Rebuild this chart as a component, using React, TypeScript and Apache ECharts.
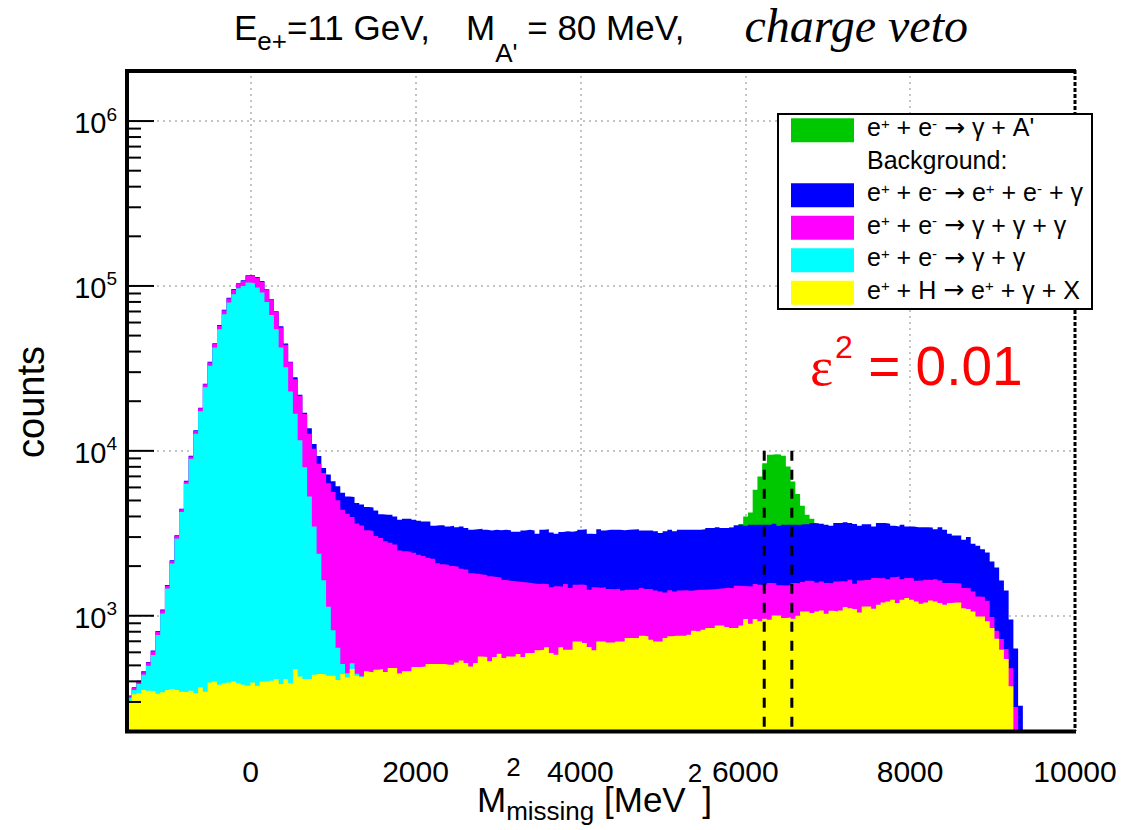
import React, { useEffect, useRef } from "react";
import * as echarts from "echarts";

const SANS = '"Liberation Sans", Arial, Helvetica, sans-serif';
const SERIF = '"Liberation Serif", "Times New Roman", serif';
const ARROW_FONT = '"DejaVu Sans", "Liberation Sans", sans-serif';

// Binning of the missing-mass-squared histograms (MeV^2)
const X_MIN = -1500;
const X_MAX = 10000;
const BIN_WIDTH = 57.5;
const Y_MIN = 200;
const Y_MAX = 2.04e6;

// Plot frame in pixels
const FRAME = { left: 127, top: 70, width: 948, height: 661 };

const COLOR_APRIME = "#00c800";
const COLOR_EEG = "#0000ff";
const COLOR_GGG = "#ff00ff";
const COLOR_GG = "#00ffff";
const COLOR_EH = "#ffff00";

// Stacked histogram levels per bin (first bin starts at X_MIN).
// Each array is the top of the stack once that process is added:
// yellow = e+H, cyan = + (e+e- -> gg), magenta = + (e+e- -> ggg),
// blue = + (e+e- -> e+e-g), green = + signal A'.
const yellowTop = [
  302, 334, 339, 355, 351, 349, 336, 343, 355, 360, 355, 346, 343, 351, 339, 369, 346, 394, 399, 381,
  390, 394, 399, 390, 381, 376, 394, 376, 399, 399, 403, 414, 386, 414, 390, 476, 428, 414, 414, 438,
  444, 442, 432, 432, 408, 444, 422, 476, 432, 424, 458,
  454, 471, 475, 456, 482, 482, 446, 460, 460, 489, 489, 493, 509, 509, 509, 509, 505, 505, 521, 536,
  517, 493, 517, 567, 562, 529, 562, 589, 554, 567, 567, 587, 562, 594, 594, 617, 622, 643, 594, 580,
  643, 622, 622, 699, 699, 683, 646, 617, 699, 699,
  689, 689, 699, 699, 732, 732, 732, 757, 750, 716, 699, 699, 732, 750, 757, 757, 757, 768, 812, 804,
  823, 842, 842, 874, 874, 854, 842, 842, 874, 954, 895, 954, 925, 959, 946, 1005, 1005, 968, 977, 959,
  1000, 1062, 1062, 1038, 1062, 1077, 1028, 1071, 1062, 1075,
  1128, 1111, 1098, 1048, 1139, 1139, 1103, 1166, 1205, 1222, 1251, 1194, 1251, 1280, 1251, 1222, 1183,
  1205, 1239, 1222, 1194, 1166, 1194, 1205, 1205, 1111, 1098, 1062, 991, 991, 925, 842, 726, 622, 546, 373,
];

const cyanTop = [
  318, 355, 386, 438, 497, 578, 764, 1033, 1463, 2073, 2938, 4259, 6310, 8950, 12700, 17400, 24300,
  32800, 42400, 54700, 67400, 79300, 89200, 96900, 100000, 104800, 103800, 97700, 91200, 80000, 66600,
  54700, 42400, 32100, 22900, 16800, 11600, 7960, 5290, 3480, 2380, 1640, 1134, 818, 640, 510, 448, 516,
  445, 430, 462,
];

const magentaTop = [
  325, 365, 400, 455, 520, 610, 800, 1080, 1520, 2150, 3050, 4420, 6520, 9250, 13200, 18100, 25300,
  34300, 44500, 57400, 71000, 84000, 95000, 103000,
  107200, 114900, 114900, 112300, 106200, 94600, 82200, 69600, 56000, 44000, 34400, 27200, 21600, 16700,
  12700, 10300, 8340, 7330, 6370, 5620, 5010, 4400, 4160, 3970, 3620, 3530, 3300,
  3270, 3050, 2960, 2830, 2770, 2700, 2490, 2460, 2440, 2410, 2340, 2300, 2250, 2220, 2080, 2050, 2030,
  2000, 1985, 1930, 1910, 1810, 1795, 1780, 1765, 1735, 1720, 1705, 1645, 1630, 1620, 1608, 1598, 1585,
  1570, 1560, 1565, 1555, 1490, 1510, 1505, 1556, 1475, 1540, 1548, 1535, 1440, 1490, 1480, 1488,
  1452, 1448, 1460, 1425, 1440, 1436, 1445, 1472, 1455, 1450, 1425, 1404, 1385, 1428, 1404, 1422, 1430,
  1418, 1426, 1440, 1436, 1442, 1450, 1456, 1470, 1476, 1468, 1520, 1515, 1507, 1503, 1556, 1540, 1545,
  1578, 1572, 1530, 1525, 1532, 1580, 1575, 1600, 1630, 1625, 1593, 1615, 1580, 1575, 1612, 1618,
  1615, 1652, 1563, 1637, 1650, 1655, 1692, 1688, 1695, 1666, 1714, 1731, 1666, 1692, 1688, 1630, 1634,
  1652, 1648, 1666, 1637, 1578, 1582, 1575, 1570, 1472, 1468, 1404, 1309, 1300, 1233, 982, 812, 722, 628,
  481, 280,
];

const blueTop = [
  328, 368, 404, 460, 525, 616, 808, 1090, 1535, 2170, 3080, 4460, 6580, 9340, 13330, 18280, 25550,
  34640, 44940, 57970, 71700, 84800, 95900, 104000, 108300, 116000, 116000, 113400, 107300, 95500, 83000,
  70300,
  57000, 44800, 34700, 27900, 21900, 17000, 13700, 11000, 9290, 7860, 7190, 6530, 6090, 5570, 5290, 5250,
  4830, 4730, 4560,
  4540, 4350, 4130, 4090, 4090, 4000, 3820, 3870, 3870, 3820, 3770, 3730, 3730, 3510, 3540, 3540, 3480,
  3510, 3440, 3480, 3400, 3320, 3350, 3370, 3320, 3290, 3320, 3300, 3320, 3300, 3230, 3230, 3290, 3320,
  3290, 3140, 3320, 3350, 3200, 3140, 3220, 3250, 3230, 3260, 3320, 3350, 3140, 3130, 3350, 3290,
  3320, 3320, 3320, 3300, 3320, 3330, 3350, 3290, 3290, 3290, 3250, 3170, 3250, 3320, 3250, 3320, 3320,
  3320, 3320, 3320, 3350, 3400, 3400, 3440, 3400, 3400, 3400, 3510, 3560, 3510, 3560, 3560, 3560, 3560,
  3560, 3610, 3510, 3560, 3560, 3560, 3560, 3590, 3590, 3645, 3610, 3610, 3560, 3510, 3645, 3645,
  3690, 3645, 3600, 3510, 3593, 3593, 3478, 3645, 3645, 3610, 3510, 3478, 3557, 3478, 3478, 3444, 3444,
  3444, 3428, 3350, 3444, 3320, 3140, 3070, 3070, 2890, 2998, 2731, 2656, 2535, 2421, 2134, 1964, 1637,
  1425, 950, 634, 285,
];

const APRIME_FIRST_BIN = 127;
const aprimeTop = [
  3450, 3550, 3600, 4000, 4230, 5800, 6990, 8410, 9460, 9550, 9500, 9330, 8040, 6520, 5480, 4650, 4090,
  3870, 3650,
];

// Signal mass window (MeV^2) and the height of its markers
const signalWindow = [6230, 6565];
const SIGNAL_MARK_TOP = 1e4;

const ARROW = "{a|\u2192}";
const legendRows = [
  { color: COLOR_APRIME, text: `{t|e}{p|+}{t| + e}{p|-}{t| }${ARROW}{t| \u03b3 + A'}` },
  { color: null, text: "{t|Background:}" },
  { color: COLOR_EEG, text: `{t|e}{p|+}{t| + e}{p|-}{t| }${ARROW}{t| e}{p|+}{t| + e}{p|-}{t| + \u03b3}` },
  { color: COLOR_GGG, text: `{t|e}{p|+}{t| + e}{p|-}{t| }${ARROW}{t| \u03b3 + \u03b3 + \u03b3}` },
  { color: COLOR_GG, text: `{t|e}{p|+}{t| + e}{p|-}{t| }${ARROW}{t| \u03b3 + \u03b3}` },
  { color: COLOR_EH, text: `{t|e}{p|+}{t| + H }${ARROW}{t| e}{p|+}{t| + \u03b3 + X}` },
];

function stepPoints(tops: number[], firstBin = 0) {
  const pts = tops.map((v, i) => [X_MIN + (firstBin + i) * BIN_WIDTH, v]);
  pts.push([X_MIN + (firstBin + tops.length) * BIN_WIDTH, tops[tops.length - 1]]);
  return pts;
}

function histogram(name: string, color: string, tops: number[], firstBin = 0) {
  return {
    name,
    type: "line",
    step: "end",
    data: stepPoints(tops, firstBin),
    symbol: "none",
    showSymbol: false,
    silent: true,
    clip: true,
    lineStyle: { width: 0, opacity: 0 },
    areaStyle: { color, opacity: 1, origin: "start" },
    itemStyle: { color },
  };
}

function staticGraphics(): any[] {
  const legendX = 778;
  const legendY = 114;
  const rowPitch = 32.47;
  const firstRow = 130.3;

  const legendEls: any[] = [
    {
      type: "rect",
      shape: { x: legendX, y: legendY, width: 314, height: 195 },
      style: { fill: "#fff", stroke: "#000", lineWidth: 2 },
      z: 30,
    },
  ];
  legendRows.forEach((row, i) => {
    const cy = firstRow + i * rowPitch;
    if (row.color) {
      legendEls.push({
        type: "rect",
        shape: { x: 791, y: cy - 12, width: 63, height: 24 },
        style: { fill: row.color },
        z: 31,
      });
    }
    legendEls.push({
      type: "text",
      x: 867,
      y: cy - 19.5,
      z: 31,
      style: {
        text: row.text,
        align: "left",
        verticalAlign: "top",
        textAlign: "left",
        textVerticalAlign: "top",
        fill: "#000",
        rich: {
          t: { fontSize: 25, fontFamily: SANS, fill: "#000", verticalAlign: "top", padding: [4, 0, 0, 0] },
          a: { fontSize: 25, fontFamily: ARROW_FONT, fill: "#000", verticalAlign: "top", padding: [4, 0, 0, 0] },
          p: { fontSize: 15, fontFamily: SANS, fill: "#000", verticalAlign: "top", padding: [5, 0, 0, 0] },
        },
      },
    });
  });

  const fl = FRAME.left;
  const ft = FRAME.top;
  const fr = FRAME.left + FRAME.width;
  const fb = FRAME.top + FRAME.height;

  const frameEls: any[] = [
    { type: "line", shape: { x1: fl - 2, y1: ft + 1, x2: fr + 1, y2: ft + 1 }, style: { stroke: "#000", lineWidth: 4 }, z: 20 },
    { type: "line", shape: { x1: fl, y1: ft - 1, x2: fl, y2: fb + 2 }, style: { stroke: "#000", lineWidth: 4 }, z: 20 },
    { type: "line", shape: { x1: fl - 2, y1: fb + 0.5, x2: fr + 1, y2: fb + 0.5 }, style: { stroke: "#000", lineWidth: 4 }, z: 20 },
    { type: "line", shape: { x1: fr, y1: ft, x2: fr, y2: fb }, style: { stroke: "#000", lineWidth: 3, lineDash: [4, 2] }, z: 20 },
  ];

  const textEls: any[] = [
    {
      type: "text",
      x: 601,
      y: 1,
      z: 20,
      style: {
        text: "{m|E}{s1|e+}{m|=11 GeV,}{m2|M}{s2|A'}{m| = 80 MeV,}{it|charge veto}",
        align: "center",
        verticalAlign: "top",
        textAlign: "center",
        textVerticalAlign: "top",
        rich: {
          m: { fontSize: 35, fontFamily: SANS, fill: "#000", verticalAlign: "top", padding: [9, 0, 0, 0] },
          m2: { fontSize: 35, fontFamily: SANS, fill: "#000", verticalAlign: "top", padding: [9, 0, 0, 36] },
          s1: { fontSize: 26, fontFamily: SANS, fill: "#000", verticalAlign: "top", padding: [27, 0, 0, 0] },
          s2: { fontSize: 26, fontFamily: SANS, fill: "#000", verticalAlign: "top", padding: [39, 0, 0, 0] },
          it: { fontSize: 48, fontFamily: SERIF, fontStyle: "italic", fill: "#000", verticalAlign: "top", padding: [0, 0, 0, 60] },
        },
      },
    },
    {
      type: "text",
      x: 31,
      y: 402,
      rotation: Math.PI / 2,
      z: 20,
      style: {
        text: "counts",
        fontSize: 38,
        fontFamily: SANS,
        fill: "#000",
        align: "center",
        verticalAlign: "middle",
        textAlign: "center",
        textVerticalAlign: "middle",
      },
    },
    {
      type: "text",
      x: 477,
      y: 752,
      z: 20,
      style: {
        text: "{m|M}{sp|2}{sb|missing}{m| [MeV}{sp2|2}{m|]}",
        align: "left",
        verticalAlign: "top",
        textAlign: "left",
        textVerticalAlign: "top",
        rich: {
          m: { fontSize: 35, fontFamily: SANS, fill: "#000", verticalAlign: "top", padding: [30, 0, 0, 0] },
          sp: { fontSize: 26, fontFamily: SANS, fill: "#000", verticalAlign: "top", padding: [2, 0, 0, 0], width: 0 },
          sb: { fontSize: 26, fontFamily: SANS, fill: "#000", verticalAlign: "top", padding: [46, 0, 0, 0] },
          sp2: { fontSize: 26, fontFamily: SANS, fill: "#000", verticalAlign: "top", padding: [8, 0, 0, 2] },
        },
      },
    },
    {
      type: "text",
      x: 810,
      y: 330,
      z: 20,
      style: {
        text: "{e|\u03b5}{s|2}{t| = 0.01}",
        align: "left",
        verticalAlign: "top",
        textAlign: "left",
        textVerticalAlign: "top",
        rich: {
          e: { fontSize: 55, fontFamily: SERIF, fill: "#ff0000", verticalAlign: "top", padding: [9, 0, 0, 0] },
          s: { fontSize: 32, fontFamily: SANS, fill: "#ff0000", verticalAlign: "top", padding: [1, 0, 0, 2] },
          t: { fontSize: 55, fontFamily: SANS, fill: "#ff0000", verticalAlign: "top", padding: [8, 0, 0, 0] },
        },
      },
    },
  ];

  return [...frameEls, ...textEls, { type: "group", children: legendEls, z: 30 }];
}

function buildOption() {
  const gridLine = { color: "#c4c4c4", width: 2, type: [2, 4] };

  return {
    animation: false,
    backgroundColor: "#fff",
    grid: {
      left: FRAME.left,
      top: FRAME.top,
      width: FRAME.width,
      height: FRAME.height,
      show: false,
      containLabel: false,
      outerBoundsMode: "none",
    },
    xAxis: {
      type: "value",
      min: X_MIN,
      max: X_MAX,
      axisLine: { show: false, onZero: false },
      axisTick: { show: false },
      axisLabel: {
        formatter: (v: number) => (Math.abs(v % 2000) < 1e-6 ? String(v) : ""),
        fontSize: 30,
        fontFamily: SANS,
        color: "#000",
        margin: 25,
      },
      splitLine: { show: true, lineStyle: gridLine },
    },
    yAxis: {
      type: "log",
      logBase: 10,
      min: Y_MIN,
      max: Y_MAX,
      axisLine: { show: false, onZero: false },
      axisTick: { show: false },
      axisLabel: {
        margin: 10,
        color: "#000",
        formatter: (v: number) => {
          const e = Math.log10(v);
          if (Math.abs(e - Math.round(e)) > 1e-6) return "";
          return `{b|10}{e|${Math.round(e)}}`;
        },
        rich: {
          b: { fontSize: 29, fontFamily: SANS, color: "#000", verticalAlign: "top", padding: [4, 0, 0, 0] },
          e: { fontSize: 19, fontFamily: SANS, color: "#000", verticalAlign: "top" },
        },
      },
      splitLine: { show: true, lineStyle: gridLine },
    },
    series: [
      histogram("e+ e- -> gamma A'", COLOR_APRIME, aprimeTop, APRIME_FIRST_BIN),
      histogram("e+ e- -> e+ e- gamma", COLOR_EEG, blueTop),
      histogram("e+ e- -> gamma gamma gamma", COLOR_GGG, magentaTop),
      histogram("e+ e- -> gamma gamma", COLOR_GG, cyanTop),
      histogram("e+ H -> e+ gamma X", COLOR_EH, yellowTop),
      {
        type: "custom",
        name: "signal window",
        silent: true,
        z: 5,
        data: signalWindow.map((x) => [x, SIGNAL_MARK_TOP]),
        renderItem: (_params: any, api: any) => {
          const top = api.coord([api.value(0), api.value(1)]);
          const bottom = api.coord([api.value(0), Y_MIN]);
          return {
            type: "line",
            shape: { x1: top[0], y1: top[1], x2: bottom[0], y2: bottom[1] },
            style: { stroke: "#000", lineWidth: 3, lineDash: [10, 9] },
          };
        },
      },
    ],
    graphic: { elements: staticGraphics() },
  };
}

// Log-axis ticks: long ones at each decade, short ones at 2..9 x decade
function logTickGraphics(chart: any): any[] {
  const els: any[] = [];
  for (let d = 2; d <= 6; d++) {
    for (let m = 1; m <= 9; m++) {
      const v = m * Math.pow(10, d);
      if (v <= Y_MIN || v >= Y_MAX) continue;
      const p = chart.convertToPixel({ gridIndex: 0 }, [X_MIN, v]);
      if (!p) continue;
      const len = m === 1 ? 27 : 14;
      els.push({
        type: "line",
        shape: { x1: p[0], y1: p[1], x2: p[0] + len, y2: p[1] },
        style: { stroke: "#000", lineWidth: 2 },
        z: 19,
      });
    }
  }
  return els;
}

export default function App() {
  const ref = useRef<HTMLDivElement>(null);
  useEffect(() => {
    const chart = echarts.init(ref.current as HTMLDivElement, null, { renderer: "svg" });
    chart.setOption(buildOption() as any);
    chart.setOption({ graphic: { elements: [...staticGraphics(), ...logTickGraphics(chart)] } } as any);
    return () => chart.dispose();
  }, []);
  return (
    <div
      ref={ref}
      style={{ position: "fixed", left: 0, top: 0, width: 1136, height: 830, background: "#fff" }}
    />
  );
}
